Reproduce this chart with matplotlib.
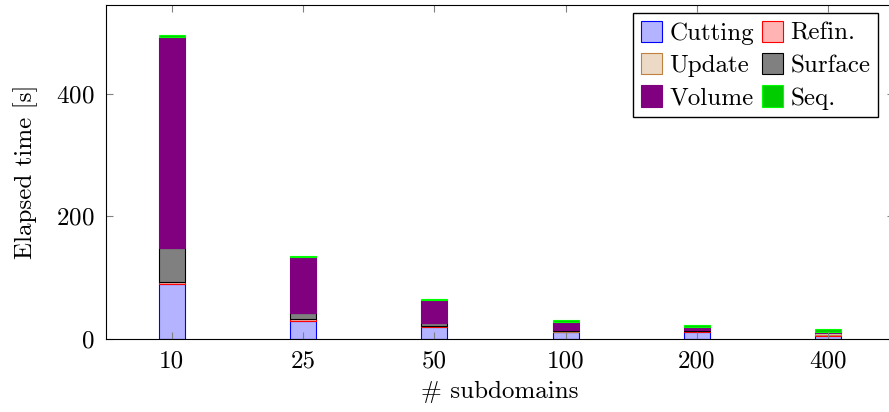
import numpy as np
import matplotlib
matplotlib.use("Agg")
import matplotlib.pyplot as plt

plt.rcParams['font.family'] = ['cmr10', 'DejaVu Serif']
plt.rcParams['mathtext.fontset'] = 'cm'
plt.rcParams['axes.formatter.use_mathtext'] = True

# Elapsed time per phase for each number of subdomains
subdomains = ["10", "25", "50", "100", "200", "400"]
cutting = [90, 30, 20, 11.5, 12, 5]
refin = [2.5, 2, 1, 0.5, 0.5, 1.5]
update = [1, 1, 0.5, 0.5, 0.5, 2.5]
surface = [55, 9, 4, 2, 1.5, 1]
volume = [345, 91, 37.5, 13.5, 5, 2]
seq = [2, 2, 2, 2.5, 3, 4]

series = [
    ("Cutting", cutting, "#b3b3ff", "blue"),
    ("Refin.", refin, "#ffb3b3", "red"),
    ("Update", update, "#ecd9c6", "#bf8040"),
    ("Surface", surface, "#808080", "black"),
    ("Volume", volume, "#800080", "#800080"),
    ("Seq.", seq, "#00cc00", "#00ff00"),
]

fig = plt.figure(figsize=(8.89, 4.12), dpi=100)
ax = fig.add_axes([106 / 889, (412 - 339) / 412, 788 / 889, 334 / 412])

x = np.arange(len(subdomains))
bottom = np.zeros(len(subdomains))
handles = []
for name, vals, fc, ec in series:
    h = ax.bar(x, vals, width=0.2, bottom=bottom, color=fc, edgecolor=ec,
               linewidth=0.8, label=name)
    handles.append(h)
    bottom += np.array(vals)

ax.set_xlim(-0.5, 5.5)
ax.set_ylim(0, 545)
ax.set_xticks(x)
ax.set_xticklabels(subdomains)
ax.set_yticks([0, 200, 400])
ax.tick_params(direction='in', length=5, color='#808080', labelsize=18,
               top=True, right=True, pad=8)
for s in ax.spines.values():
    s.set_linewidth(0.8)

ax.set_xlabel("# subdomains", fontsize=18, labelpad=6)
ax.set_ylabel("Elapsed time [s]", fontsize=18, labelpad=13)

# row-major order like the original legend
order = [0, 2, 4, 1, 3, 5]
ax.legend([handles[i] for i in order], [series[i][0] for i in order],
          loc='upper right', ncol=2, fontsize=18, frameon=True, fancybox=False,
          edgecolor='black', framealpha=1, handlelength=0.85, handleheight=0.95,
          handletextpad=0.3, columnspacing=0.3, labelspacing=0.32,
          borderpad=0.3, borderaxespad=0, bbox_to_anchor=(878 / 889, 399 / 412),
          bbox_transform=fig.transFigure)

fig.savefig("out.png", dpi=100)
